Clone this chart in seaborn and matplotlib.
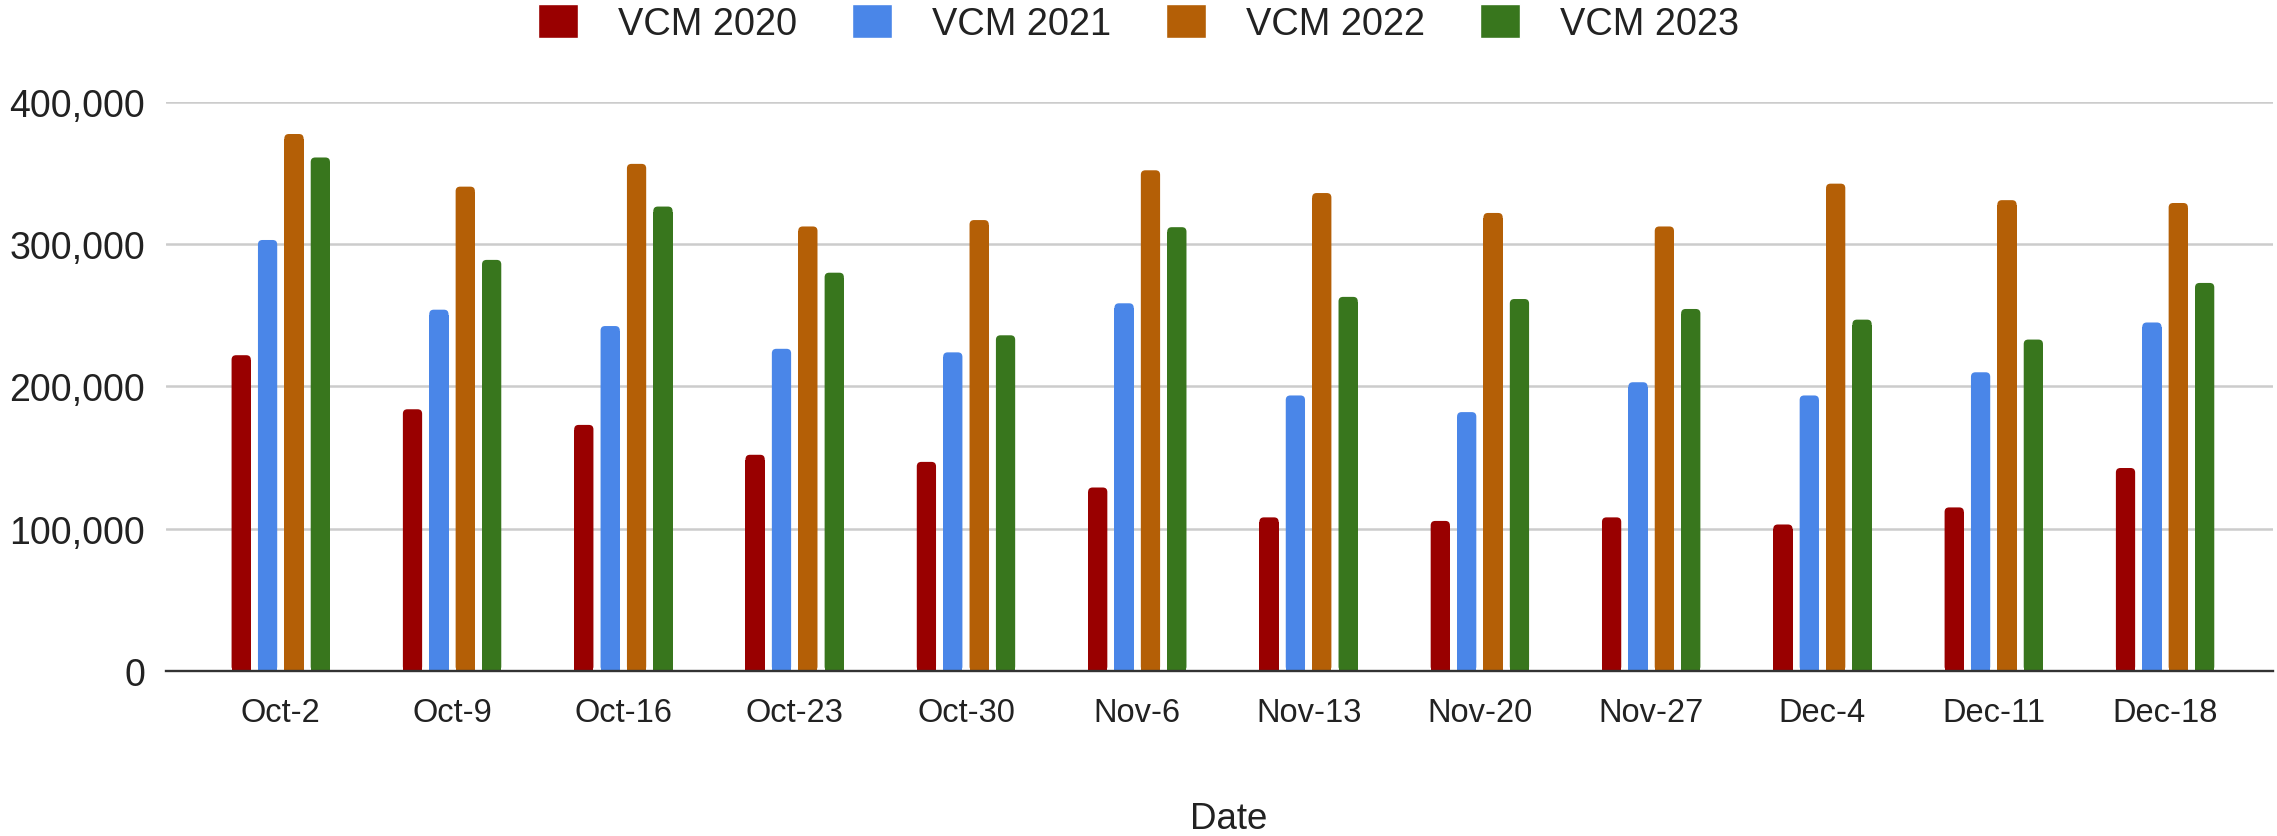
import pandas as pd
import seaborn as sns
import matplotlib.pyplot as plt
from matplotlib.patches import FancyBboxPatch
from matplotlib.ticker import FuncFormatter

dates = ['Oct-2', 'Oct-9', 'Oct-16', 'Oct-23', 'Oct-30', 'Nov-6',
         'Nov-13', 'Nov-20', 'Nov-27', 'Dec-4', 'Dec-11', 'Dec-18']
vcm_2020 = [222000, 184000, 173000, 152000, 147000, 129000,
            108000, 105500, 108000, 103000, 115000, 142700]
vcm_2021 = [303000, 254000, 242500, 226500, 224000, 258500,
            193700, 182000, 203000, 193700, 210000, 245000]
vcm_2022 = [377500, 340500, 356500, 312500, 317000, 352000,
            336000, 322000, 312500, 342600, 331000, 329000]
vcm_2023 = [361000, 289000, 326500, 280000, 236000, 312000,
            263000, 261500, 254500, 247000, 233000, 272800]
series_names = ['VCM 2020', 'VCM 2021', 'VCM 2022', 'VCM 2023']
colors = ['#990000', '#4a86e8', '#b45f06', '#38761d']

rows = []
for name, vals in zip(series_names, [vcm_2020, vcm_2021, vcm_2022, vcm_2023]):
    for d, v in zip(dates, vals):
        rows.append({'Date': d, 'value': v, 'series': name})
df = pd.DataFrame(rows)

sns.set_style('white')
plt.rcParams['font.family'] = ['Liberation Sans', 'DejaVu Sans']
text_col = '#222222'

W, H = 2277, 837
fig = plt.figure(figsize=(W / 100, H / 100), dpi=100)
# axes box in pixels: left 166, right 2273, zero line 672, top gridline 103
ax = fig.add_axes([166 / W, 1 - 672 / H, (2273 - 166) / W, (672 - 103) / H])

sns.barplot(data=df, x='Date', y='value', hue='series', order=dates,
            hue_order=series_names, palette=colors, width=0.616, gap=0.27,
            saturation=1, ax=ax, zorder=3)

ax.set_ylim(0, 400000)
ax.set_xlim(-0.67, 11.63)

# round the top corners of each bar (about 4 px radius)
x_per_px = (11.63 + 0.67) / (2273 - 166)
y_per_px = 400000 / (672 - 103)
r = 4.5 * x_per_px
for bar in list(ax.patches):
    x, y = bar.get_x(), bar.get_y()
    w, h = bar.get_width(), bar.get_height()
    if h <= 0:
        continue
    top = FancyBboxPatch((x, y), w, h,
                         boxstyle=f'round,pad=0,rounding_size={r}',
                         mutation_aspect=y_per_px / x_per_px,
                         facecolor=bar.get_facecolor(), edgecolor='none',
                         linewidth=0, zorder=3)
    ax.add_patch(top)
    bar.set_height(h - 5 * y_per_px)
    bar.set_edgecolor('none')

ax.set_yticks([0, 100000, 200000, 300000, 400000])
ax.yaxis.set_major_formatter(FuncFormatter(lambda v, p: f'{int(v):,}'))
ax.grid(axis='y', color='#cccccc', linewidth=1.8, zorder=0)
ax.set_axisbelow(True)
for s in ['top', 'left', 'right']:
    ax.spines[s].set_visible(False)
ax.spines['bottom'].set_color('#333333')
ax.spines['bottom'].set_linewidth(1.7)
ax.spines['bottom'].set_zorder(4)

ax.tick_params(axis='y', length=0, pad=15, labelsize=27, labelcolor=text_col)
ax.tick_params(axis='x', length=0, pad=19, labelsize=23.5, labelcolor=text_col)
ax.set_ylabel('')
ax.set_xlabel('Date', fontsize=26.5, color=text_col, va='top')
ax.xaxis.set_label_coords(0.5045, -0.229)

handles, labels = ax.get_legend_handles_labels()
ax.get_legend().remove()
fig.legend(handles, labels, loc='center', bbox_to_anchor=(0.5, 0.971),
           ncol=4, frameon=False, fontsize=27.4, handlelength=1.05,
           handleheight=1.0, handletextpad=1.05, columnspacing=1.45,
           labelcolor=text_col, borderaxespad=0, borderpad=0)

fig.savefig('out.png', dpi=100, facecolor='white')
